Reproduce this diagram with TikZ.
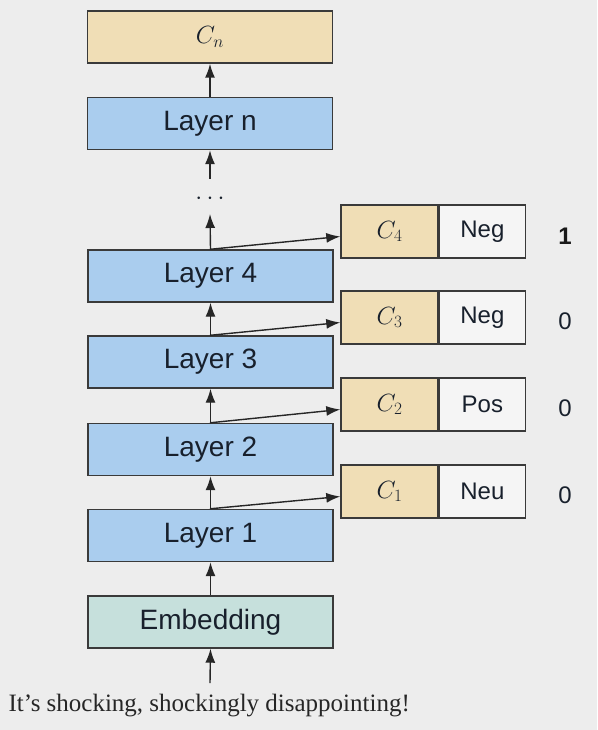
\documentclass[tikz,border=0pt]{standalone}
\usepackage{fontspec}
\setmainfont{Liberation Serif}
\setsansfont{Liberation Sans}
\usetikzlibrary{arrows.meta}
\definecolor{bg}{HTML}{EDEDED}
\definecolor{layerblue}{HTML}{AACDEE}
\definecolor{ctan}{HTML}{F0DEB6}
\definecolor{embteal}{HTML}{C6E0DC}
\definecolor{lbl}{HTML}{18202C}
\definecolor{edge}{HTML}{3A3A3A}
\tikzset{
  box/.style={draw=edge, line width=1.4pt, inner sep=0pt, text=lbl},
  layerbox/.style={box, fill=layerblue, minimum width=245pt, minimum height=52pt,
    font=\sffamily\fontsize{28}{30}\selectfont},
  embbox/.style={layerbox, fill=embteal},
  cbox/.style={box, fill=ctan, minimum width=97pt, minimum height=53pt,
    font=\fontsize{26}{28}\selectfont},
  cnbox/.style={cbox, minimum width=245pt, minimum height=52pt},
  labbox/.style={box, fill=black!4, minimum width=86pt, minimum height=53pt,
    font=\sffamily\fontsize{24}{26}\selectfont},
  num/.style={text=lbl, font=\sffamily\fontsize{24}{26}\selectfont},
  arr/.style={draw=black!85, line width=1.4pt, -{Latex[length=14pt,width=10pt]}},
}
\begin{document}
\begin{tikzpicture}[x=1pt,y=-1pt]
\fill[bg] (0,0) rectangle (597,730);
\useasboundingbox (0,0) rectangle (597,730);

\node[cnbox] (cn) at (210,37) {$C_n$};
\node[layerbox] (ln) at (210,123.5) {Layer n};
\node[text=lbl, font=\fontsize{24}{24}\selectfont] (dots) at (210,199) {$\cdots$};
\coordinate (dotlow) at (210,214);
\coordinate (dothigh) at (210,179);
\node[layerbox] (l4) at (210.5,276) {Layer 4};
\node[layerbox] (l3) at (210.5,362) {Layer 3};
\node[layerbox] (l2) at (210.5,449.5) {Layer 2};
\node[layerbox] (l1) at (210.5,535.5) {Layer 1};
\node[embbox] (emb) at (210.5,622) {Embedding};
\node[anchor=west, text=black!85, font=\fontsize{25}{27}\selectfont] (sent) at (5,706) {It’s shocking, shockingly disappointing!};
\coordinate (inp) at (210,683);

% classifier rows
\node[cbox] (c4) at (389.5,231.5) {$C_4$};
\node[labbox, anchor=west] (t4) at (c4.east) {Neg};
\node[num, font=\sffamily\bfseries\fontsize{24}{26}\selectfont, text=black!90] (n4) at (565,236) {1};
\node[cbox] (c3) at (389.5,317.5) {$C_3$};
\node[labbox, anchor=west] (t3) at (c3.east) {Neg};
\node[num] (n3) at (565,321) {0};
\node[cbox] (c2) at (389.5,404.5) {$C_2$};
\node[labbox, anchor=west] (t2) at (c2.east) {Pos};
\node[num] (n2) at (565,408) {0};
\node[cbox] (c1) at (389.5,491.5) {$C_1$};
\node[labbox, anchor=west] (t1) at (c1.east) {Neu};
\node[num] (n1) at (565,495) {0};

% vertical flow
\draw[arr] (inp) -- (emb.south);
\draw[arr] (emb.north) -- (l1.south);
\draw[arr] (l1.north) -- (l2.south);
\draw[arr] (l2.north) -- (l3.south);
\draw[arr] (l3.north) -- (l4.south);
\draw[arr] (l4.north) -- (dotlow);
\draw[arr] (dothigh) -- (ln.south);
\draw[arr] (ln.north) -- (cn.south);

% branches to classifiers
\draw[arr] (l1.north -| 210,0) -- ([yshift=-5pt]c1.west);
\draw[arr] (l2.north -| 210,0) -- ([yshift=-5pt]c2.west);
\draw[arr] (l3.north -| 210,0) -- ([yshift=-5pt]c3.west);
\draw[arr] (l4.north -| 210,0) -- ([yshift=-5pt]c4.west);
\end{tikzpicture}
\end{document}
